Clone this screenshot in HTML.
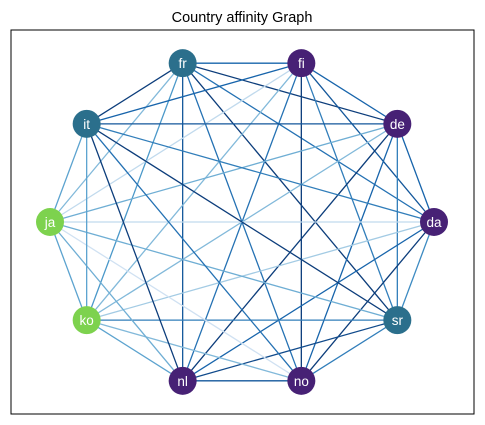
<!DOCTYPE html>
<html><head><meta charset="utf-8"><style>
body{margin:0;background:#fff;}
svg{display:block;font-family:"Liberation Sans","DejaVu Sans",sans-serif;}
</style></head><body>
<svg id="chart" width="485" height="425">
<rect x="11" y="30" width="463" height="384" fill="#fff" stroke="#000" stroke-width="1"/>
<text x="242" y="22" text-anchor="middle" font-size="14.5">Country affinity Graph</text>
<g id="edges"></g><g id="nodes"></g>
</svg>
<script>
const nodeNames=["fr","fi","de","da","sr","no","nl","ko","ja","it"];
const nodeGroups=[1,0,0,0,1,0,0,2,2,1];
const edgePairs=[["fr","fi"],["fr","it"],["fr","de"],["fr","da"],["fr","sr"],["fr","no"],["fr","nl"],["fr","ko"],["fr","ja"],
["fi","it"],["fi","de"],["fi","da"],["fi","sr"],["fi","no"],["fi","nl"],["fi","ko"],["fi","ja"],
["de","it"],["de","da"],["de","sr"],["de","no"],["de","nl"],["de","ko"],["de","ja"],
["da","it"],["da","sr"],["da","no"],["da","nl"],["da","ko"],["da","ja"],
["sr","it"],["sr","no"],["sr","nl"],["sr","ko"],["sr","ja"],
["no","it"],["no","nl"],["no","ko"],["no","ja"],
["nl","it"],["nl","ko"],["nl","ja"],["ko","it"],["ja","it"],["ja","ko"]];
const edgeWeights=[0.8,0.95,0.95,0.75,0.95,0.75,0.85,0.6,0.45,
0.8,0.8,0.85,0.7,0.95,0.75,0.45,0.25,
0.85,0.8,0.7,0.8,0.95,0.45,0.5,
0.7,0.65,0.95,0.8,0.35,0.25,
0.95,0.7,0.9,0.7,0.5,
0.75,0.85,0.45,0.2,
0.95,0.55,0.5,0.55,0.55,0.55];
const groupColors=["#472175","#2b6f8c","#7dd24e"];
const cx=242,cy=222,rx=192,ry=167;
function pos(i){return [cx+rx*Math.cos(Math.PI*0.6-i*Math.PI/5),cy-ry*Math.sin(Math.PI*0.6-i*Math.PI/5)];}
const stops=[[0,[247,251,255]],[0.2,[208,225,242]],[0.4,[148,196,223]],[0.6,[74,152,201]],[0.8,[23,100,171]],[1,[8,48,107]]];
function blues(t){for(let k=1;k<stops.length;k++){if(t<=stops[k][0]){const a=stops[k-1],b=stops[k],f=(t-a[0])/(b[0]-a[0]);return "rgb("+a[1].map((v,j)=>Math.round(v+(b[1][j]-v)*f)).join(",")+")";}}return "rgb(8,48,107)";}
const NS="http://www.w3.org/2000/svg";
const eg=document.getElementById("edges"),ng=document.getElementById("nodes");
edgePairs.forEach((p,k)=>{
const a=pos(nodeNames.indexOf(p[0])),b=pos(nodeNames.indexOf(p[1]));
const l=document.createElementNS(NS,"line");
l.setAttribute("x1",a[0]);l.setAttribute("y1",a[1]);l.setAttribute("x2",b[0]);l.setAttribute("y2",b[1]);
l.setAttribute("stroke",blues(edgeWeights[k]));l.setAttribute("stroke-width","1.3");


eg.appendChild(l);});
nodeNames.forEach((n,i)=>{
const p=pos(i);
const g=document.createElementNS(NS,"g");


const c=document.createElementNS(NS,"circle");
c.setAttribute("cx",p[0]);c.setAttribute("cy",p[1]);c.setAttribute("r","14");c.setAttribute("fill",groupColors[nodeGroups[i]]);
const t=document.createElementNS(NS,"text");
t.setAttribute("x",p[0]);t.setAttribute("y",p[1]+5);t.setAttribute("text-anchor","middle");t.setAttribute("font-size","13.5");t.setAttribute("fill","#fff");
t.textContent=n;
g.appendChild(c);g.appendChild(t);ng.appendChild(g);});
</script>
</body></html>
